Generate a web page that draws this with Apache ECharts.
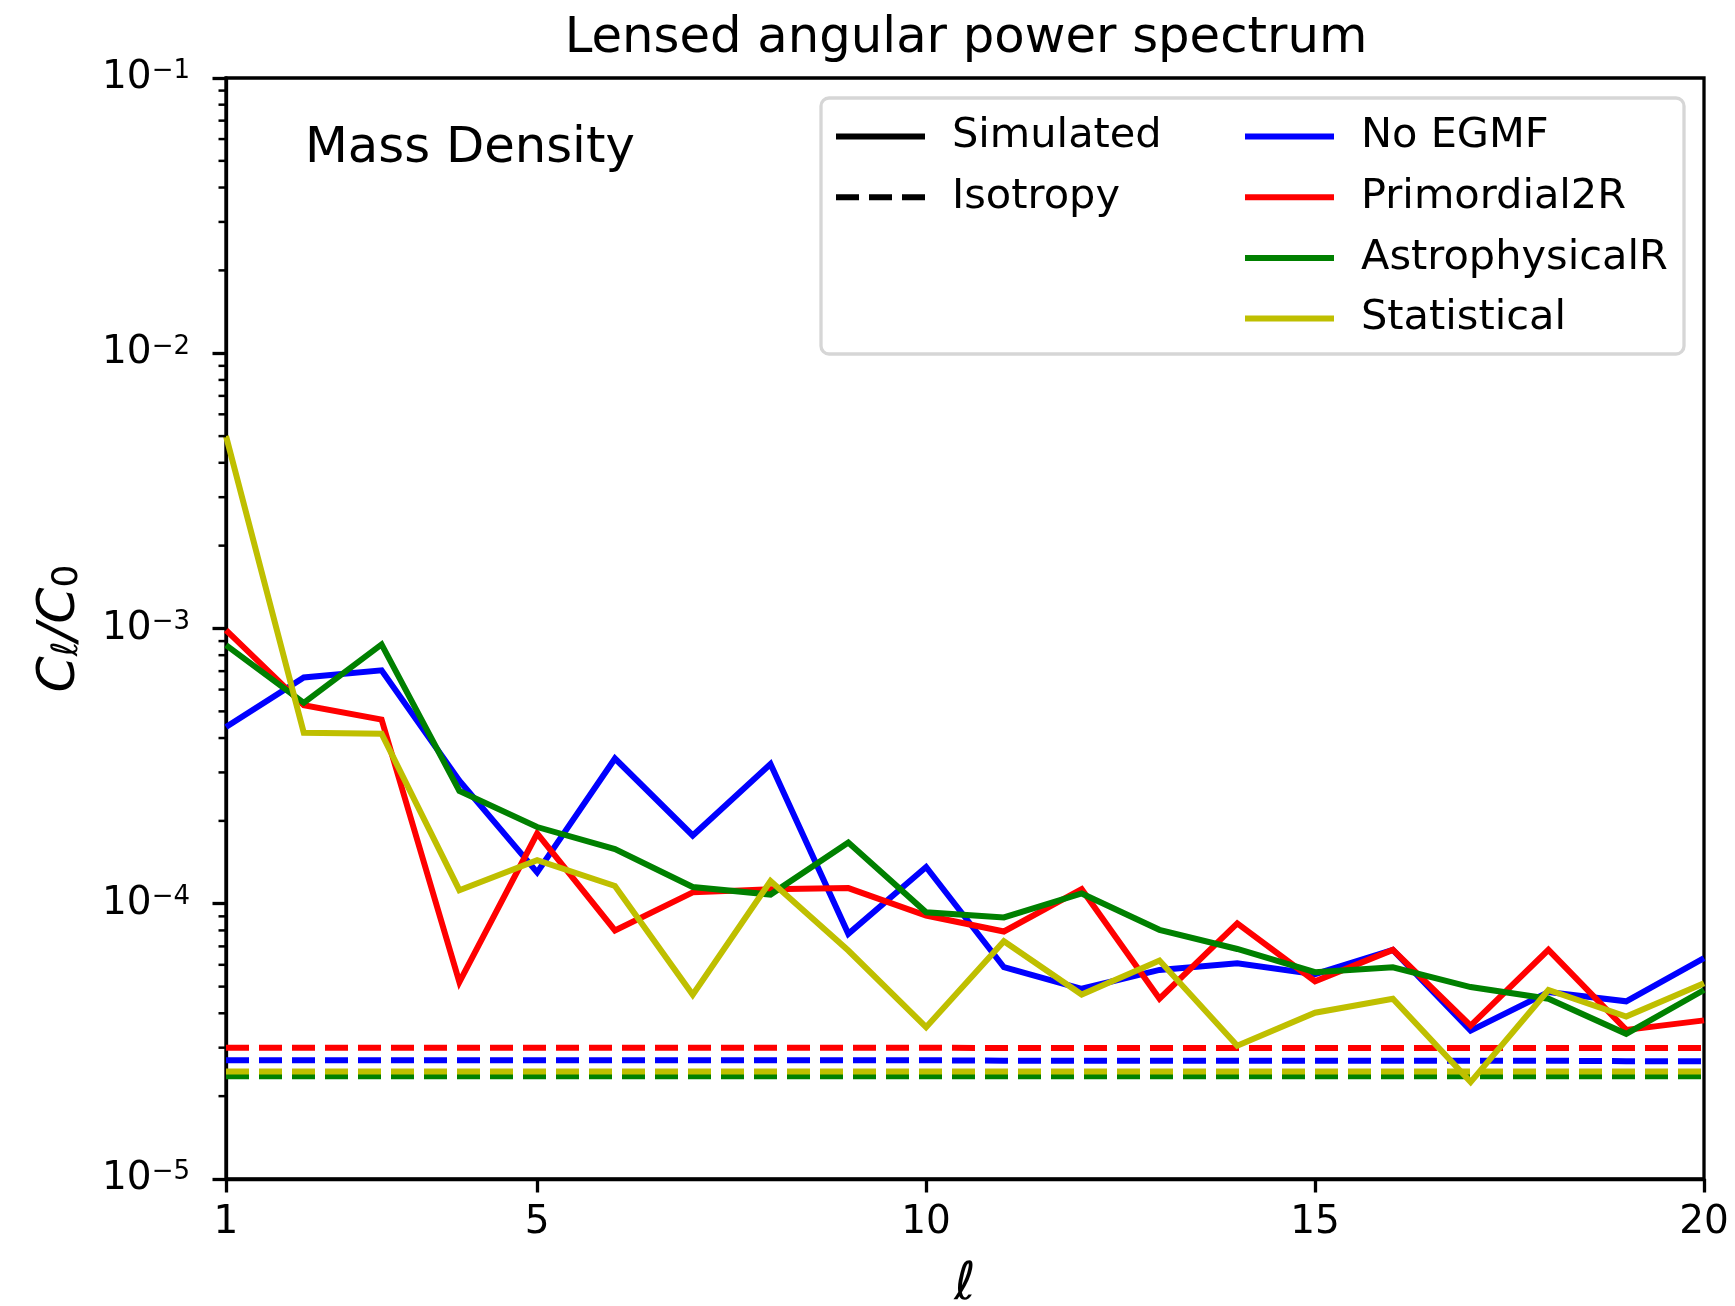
<!DOCTYPE html>
<html>
<head>
<meta charset="utf-8">
<script src="https://cdn.jsdelivr.net/npm/echarts@6/dist/echarts.min.js"></script>
<style>
html, body { margin: 0; padding: 0; background: #fff; }
#chart { width: 1735px; height: 1306px; }
</style>
</head>
<body>
<div id="chart"></div>
<script>
// ---- data ----
const ells = [1, 2, 3, 4, 5, 6, 7, 8, 9, 10, 11, 12, 13, 14, 15, 16, 17, 18, 19, 20];

const noEGMF = [4.39e-4, 6.64e-4, 7.05e-4, 2.8e-4, 1.30e-4, 3.37e-4, 1.77e-4, 3.22e-4, 7.78e-5, 1.36e-4,
                5.88e-5, 4.91e-5, 5.75e-5, 6.08e-5, 5.55e-5, 6.8e-5, 3.46e-5, 4.78e-5, 4.42e-5, 6.35e-5];
const primordial2R = [9.86e-4, 5.26e-4, 4.67e-4, 5.19e-5, 1.80e-4, 8.0e-5, 1.10e-4, 1.13e-4, 1.14e-4, 9.06e-5,
                      7.93e-5, 1.13e-4, 4.52e-5, 8.49e-5, 5.23e-5, 6.8e-5, 3.61e-5, 6.8e-5, 3.48e-5, 3.77e-5];
const astrophysicalR = [8.7e-4, 5.37e-4, 8.75e-4, 2.57e-4, 1.90e-4, 1.58e-4, 1.15e-4, 1.08e-4, 1.67e-4, 9.31e-5,
                        8.92e-5, 1.09e-4, 8.04e-5, 6.85e-5, 5.64e-5, 5.88e-5, 4.98e-5, 4.52e-5, 3.37e-5, 4.86e-5];
const statistical = [5.0e-3, 4.18e-4, 4.15e-4, 1.12e-4, 1.44e-4, 1.16e-4, 4.67e-5, 1.21e-4, 6.76e-5, 3.56e-5,
                     7.31e-5, 4.68e-5, 6.22e-5, 3.05e-5, 4.02e-5, 4.52e-5, 2.25e-5, 4.86e-5, 3.89e-5, 5.14e-5];

const isoNoEGMF = [2.70e-5, 2.70e-5, 2.70e-5, 2.70e-5, 2.70e-5, 2.70e-5, 2.70e-5, 2.70e-5, 2.70e-5, 2.70e-5,
                   2.69e-5, 2.69e-5, 2.69e-5, 2.69e-5, 2.69e-5, 2.69e-5, 2.69e-5, 2.69e-5, 2.68e-5, 2.68e-5];
const isoPrimordial2R = [3.0e-5, 3.0e-5, 3.0e-5, 3.0e-5, 3.0e-5, 3.0e-5, 3.0e-5, 3.0e-5, 3.0e-5, 3.0e-5,
                         2.99e-5, 2.99e-5, 2.99e-5, 2.99e-5, 2.99e-5, 2.99e-5, 2.99e-5, 2.99e-5, 2.99e-5, 2.99e-5];
const isoAstrophysicalR = [2.36e-5, 2.36e-5, 2.36e-5, 2.36e-5, 2.36e-5, 2.36e-5, 2.36e-5, 2.36e-5, 2.36e-5, 2.36e-5,
                           2.36e-5, 2.36e-5, 2.36e-5, 2.36e-5, 2.36e-5, 2.36e-5, 2.36e-5, 2.36e-5, 2.36e-5, 2.36e-5];
const isoStatistical = [2.46e-5, 2.46e-5, 2.46e-5, 2.46e-5, 2.46e-5, 2.46e-5, 2.46e-5, 2.46e-5, 2.46e-5, 2.46e-5,
                        2.46e-5, 2.46e-5, 2.46e-5, 2.46e-5, 2.46e-5, 2.46e-5, 2.46e-5, 2.46e-5, 2.46e-5, 2.46e-5];

const xTickValues = [1, 5, 10, 15, 20];
const yMinorTicks = [2e-5, 3e-5, 4e-5, 5e-5, 6e-5, 7e-5, 8e-5, 9e-5,
                     2e-4, 3e-4, 4e-4, 5e-4, 6e-4, 7e-4, 8e-4, 9e-4,
                     2e-3, 3e-3, 4e-3, 5e-3, 6e-3, 7e-3, 8e-3, 9e-3,
                     2e-2, 3e-2, 4e-2, 5e-2, 6e-2, 7e-2, 8e-2, 9e-2];

const titleText = 'Lensed angular power spectrum';
const panelText = 'Mass Density';

// ---- chart ----
const FONT = 'DejaVu Sans';
const pair = (arr) => ells.map((l, i) => [l, arr[i]]);
const DASH = [23, 10];
const LW = 6;

function solid(name, color, arr) {
  return { name, type: 'line', data: pair(arr), symbol: 'none', smooth: false,
           lineStyle: { color, width: LW, cap: 'butt', join: 'miter' }, itemStyle: { color },
           emphasis: { disabled: true }, animation: false, z: 2 };
}
function dashed(name, color, arr) {
  return { name, type: 'line', data: pair(arr), symbol: 'none',
           lineStyle: { color, width: LW, type: DASH, cap: 'butt' }, itemStyle: { color },
           emphasis: { disabled: true }, animation: false, z: 2 };
}

const chart = echarts.init(document.getElementById('chart'), null, { renderer: 'canvas' });

const legendCommon = {
  orient: 'vertical', padding: 0, itemWidth: 89, itemHeight: 14, itemGap: 12.7,
  selectedMode: false, z: 10,
  itemStyle: { opacity: 0 },
  lineStyle: { width: LW },
  textStyle: { fontFamily: FONT, fontSize: 41.5, color: '#000', lineHeight: 48, padding: [0, 0, 0, 22] }
};

const option = {
  backgroundColor: '#fff',
  animation: false,
  title: [
    { text: titleText, left: 966, top: 15, textAlign: 'center', padding: 0,
      textStyle: { fontFamily: FONT, fontSize: 49.7, fontWeight: 'normal', color: '#000', lineHeight: 49 } },
    { text: panelText, left: 305, top: 125, padding: 0,
      textStyle: { fontFamily: FONT, fontSize: 49.7, fontWeight: 'normal', color: '#000', lineHeight: 49 } }
  ],
  grid: { left: 226, right: 31, top: 78, bottom: 127, show: true, borderColor: '#000', borderWidth: 3.3,
          backgroundColor: 'transparent', outerBoundsMode: 'none' },
  graphic: [{
    type: 'rect', z: 1, silent: true,
    shape: { x: 821, y: 98, width: 863, height: 256, r: 8 },
    style: { fill: '#ffffff', stroke: '#d6d6d6', lineWidth: 3.3 }
  }],
  legend: [
    Object.assign({}, legendCommon, { left: 833, top: 112.5, data: ['Simulated', 'Isotropy'] }),
    Object.assign({}, legendCommon, { left: 1242, top: 112.5, data: ['No EGMF', 'Primordial2R', 'AstrophysicalR', 'Statistical'] })
  ],
  xAxis: {
    type: 'value', min: 1, max: 20,
    name: '{i|ℓ}', nameLocation: 'middle', nameGap: 80,
    nameTextStyle: { rich: { i: { fontFamily: FONT, fontSize: 52, fontStyle: 'italic', color: '#000' } } },
    axisLine: { show: true, onZero: false, lineStyle: { color: '#000', width: 3.3 } },
    axisTick: { show: true, inside: false, length: 13.5, lineStyle: { color: '#000', width: 3.3 }, customValues: xTickValues },
    axisLabel: { show: true, margin: 24, fontFamily: FONT, fontSize: 39, color: '#000', customValues: xTickValues,
                 formatter: (v) => String(v) },
    splitLine: { show: false },
    minorTick: { show: false }
  },
  yAxis: {
    type: 'log', logBase: 10, min: 1e-5, max: 1e-1,
    name: '{c|C}{s|ℓ}{c|/C}{n|0}', nameLocation: 'middle', nameRotate: 90, nameGap: 140,
    nameTextStyle: { rich: {
      c: { fontFamily: FONT, fontSize: 52, fontStyle: 'italic', color: '#000', lineHeight: 52, verticalAlign: 'top' },
      s: { fontFamily: FONT, fontSize: 36, fontStyle: 'italic', color: '#000', lineHeight: 36, verticalAlign: 'bottom', padding: [24, 0, 0, 0] },
      n: { fontFamily: FONT, fontSize: 36, color: '#000', lineHeight: 36, verticalAlign: 'bottom', padding: [24, 0, 0, 0] }
    } },
    axisLine: { show: true, onZero: false, lineStyle: { color: '#000', width: 3.3 } },
    axisTick: { show: true, inside: false, length: 13.5, lineStyle: { color: '#000', width: 3.3 } },
    axisLabel: {
      show: true, margin: 36, color: '#000', fontFamily: FONT, fontSize: 39,
      formatter: function (v) {
        const e = Math.round(Math.log10(v));
        return '{b|10}{s|' + (e < 0 ? '\u2212' : '') + Math.abs(e) + '}';
      },
      rich: {
        b: { fontFamily: FONT, fontSize: 39, color: '#000', lineHeight: 39, verticalAlign: 'bottom' },
        s: { fontFamily: FONT, fontSize: 26, color: '#000', lineHeight: 26, verticalAlign: 'top', padding: [0, 0, 15, 0] }
      }
    },
    splitLine: { show: false },
    minorTick: { show: false }
  },
  series: [
    solid('No EGMF', '#0000ff', noEGMF),
    dashed('No EGMF isotropy', '#0000ff', isoNoEGMF),
    solid('Primordial2R', '#ff0000', primordial2R),
    dashed('Primordial2R isotropy', '#ff0000', isoPrimordial2R),
    solid('AstrophysicalR', '#008000', astrophysicalR),
    dashed('AstrophysicalR isotropy', '#008000', isoAstrophysicalR),
    solid('Statistical', '#bfbf00', statistical),
    dashed('Statistical isotropy', '#bfbf00', isoStatistical),
    { name: 'Simulated', type: 'line', data: [], symbol: 'none',
      lineStyle: { color: '#000', width: LW }, itemStyle: { color: '#000' } },
    { name: 'Isotropy', type: 'line', data: [], symbol: 'none',
      lineStyle: { color: '#000', width: LW, type: DASH }, itemStyle: { color: '#000' } },
    { name: 'minor y ticks', type: 'custom', silent: true, clip: false, z: 5,
      data: yMinorTicks.map(v => [1, v]),
      renderItem: function (params, api) {
        const p = api.coord([api.value(0), api.value(1)]);
        return { type: 'line', shape: { x1: p[0] - 7.5, y1: p[1], x2: p[0], y2: p[1] },
                 style: { stroke: '#000', lineWidth: 2.5 } };
      } }
  ]
};

chart.setOption(option);
</script>
</body>
</html>
